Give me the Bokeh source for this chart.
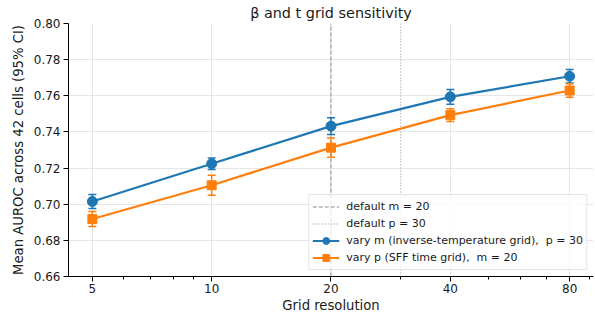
from bokeh.plotting import figure
from bokeh.models import (ColumnDataSource, Whisker, TeeHead, FixedTicker,
                          PrintfTickFormatter, Legend, LegendItem)
from bokeh.embed import file_html
from bokeh.resources import INLINE

# ---- data ----
grid_res = [5, 10, 20, 40, 80]
auroc_vary_m = [0.7015, 0.7224, 0.7432, 0.7594, 0.7708]
ci_vary_m = [0.0039, 0.0032, 0.0046, 0.0041, 0.0037]
auroc_vary_p = [0.6918, 0.7105, 0.7313, 0.7493, 0.7629]
ci_vary_p = [0.0042, 0.0055, 0.0053, 0.0035, 0.0037]
default_m = 20
default_p = 30
x_ticks = [5, 10, 20, 40, 80]
x_minor_ticks = [6, 7, 8, 9, 30, 50, 60, 70, 90]
y_ticks = [0.66, 0.68, 0.70, 0.72, 0.74, 0.76, 0.78, 0.80]
y_min, y_max = 0.66, 0.80
x_min, x_max = 4.3528, 91.896

title_text = "β and t grid sensitivity"
x_label = "Grid resolution"
y_label = "Mean AUROC across 42 cells (95% CI)"
lbl_def_m = "default m = 20"
lbl_def_p = "default p = 30"
lbl_vary_m = "vary m (inverse-temperature grid),  p = 30"
lbl_vary_p = "vary p (SFF time grid),  m = 20"

BLUE = "#1f77b4"
ORANGE = "#ff7f0e"
GRAY = "#8c8c8c"
FONT = "DejaVu Sans"
TXT = "#1a1a1a"

p = figure(width=595, height=320, x_axis_type="log",
           x_range=(x_min, x_max), y_range=(y_min, y_max),
           output_backend="svg", toolbar_location=None,
           min_border_left=68, min_border_right=2, min_border_top=23,
           min_border_bottom=44)

p.title.text = title_text
p.title.text_font = FONT
p.title.text_font_size = "14.4px"
p.title.text_font_style = "normal"
p.title.text_color = TXT
p.title.align = "center"
p.title.standoff = 5
p.title.offset = 0
p.outline_line_color = None
p.background_fill_color = "white"
p.border_fill_color = "white"

# axes
xa = p.xaxis[0]
xa.ticker = FixedTicker(ticks=x_ticks, minor_ticks=x_minor_ticks)
xa.formatter = PrintfTickFormatter(format="%d")
ya = p.yaxis[0]
ya.ticker = FixedTicker(ticks=y_ticks)
ya.formatter = PrintfTickFormatter(format="%.2f")
for ax in (xa, ya):
    ax.axis_line_color = "black"
    ax.axis_line_width = 1
    ax.major_tick_line_color = "black"
    ax.minor_tick_line_color = "black"
    ax.major_tick_out = 5
    ax.major_tick_in = 0
    ax.major_label_text_font = FONT
    ax.major_label_text_font_size = "12px"
    ax.major_label_text_color = TXT
    ax.axis_label_text_font = FONT
    ax.axis_label_text_font_size = "13.2px"
    ax.axis_label_text_font_style = "normal"
    ax.axis_label_text_color = TXT
xa.minor_tick_out = 3
xa.minor_tick_in = 0
ya.minor_tick_out = 0
ya.minor_tick_in = 0
xa.axis_label = x_label
ya.axis_label = y_label
xa.major_label_standoff = 2
xa.axis_label_standoff = 2
ya.major_label_standoff = 3
ya.axis_label_standoff = 5

p.xgrid.grid_line_color = "#e6e6e6"
p.ygrid.grid_line_color = "#e6e6e6"
p.xgrid.grid_line_width = 1
p.ygrid.grid_line_width = 1

# default reference lines (vertical, spanning the y range)
ref_m = p.line([default_m, default_m], [y_min, y_max], line_color=GRAY,
               line_width=1, line_dash="4 2")
ref_p = p.line([default_p, default_p], [y_min, y_max], line_color=GRAY,
               line_width=1, line_dash="1 2")

# series
src_m = ColumnDataSource(dict(x=grid_res, y=auroc_vary_m,
                              lo=[v - c for v, c in zip(auroc_vary_m, ci_vary_m)],
                              hi=[v + c for v, c in zip(auroc_vary_m, ci_vary_m)]))
src_p = ColumnDataSource(dict(x=grid_res, y=auroc_vary_p,
                              lo=[v - c for v, c in zip(auroc_vary_p, ci_vary_p)],
                              hi=[v + c for v, c in zip(auroc_vary_p, ci_vary_p)]))

for src, col in ((src_m, BLUE), (src_p, ORANGE)):
    w = Whisker(source=src, base="x", lower="lo", upper="hi",
                line_color=col, line_width=1.5, level="glyph",
                upper_head=TeeHead(size=8, line_color=col, line_width=1.5),
                lower_head=TeeHead(size=8, line_color=col, line_width=1.5))
    p.add_layout(w)

lm = p.line("x", "y", source=src_m, line_color=BLUE, line_width=2.2)
sm = p.scatter("x", "y", source=src_m, marker="circle", size=10,
               fill_color=BLUE, line_color=BLUE)
lp = p.line("x", "y", source=src_p, line_color=ORANGE, line_width=2.2)
sp = p.scatter("x", "y", source=src_p, marker="square", size=9,
               fill_color=ORANGE, line_color=ORANGE)

legend = Legend(items=[
    LegendItem(label=lbl_def_m, renderers=[ref_m]),
    LegendItem(label=lbl_def_p, renderers=[ref_p]),
    LegendItem(label=lbl_vary_m, renderers=[lm, sm]),
    LegendItem(label=lbl_vary_p, renderers=[lp, sp]),
], location="bottom_right")
legend.label_text_font = FONT
legend.label_text_font_size = "11px"
legend.label_text_color = TXT
legend.label_height = 17
legend.glyph_height = 17
legend.glyph_width = 27
legend.label_standoff = 7
legend.spacing = 0
legend.padding = 3
legend.margin = 6
legend.border_line_color = "#cccccc"
legend.border_line_width = 1
legend.background_fill_color = "white"
legend.background_fill_alpha = 0.8
p.add_layout(legend)

open("out.html", "w").write(file_html(p, INLINE))
